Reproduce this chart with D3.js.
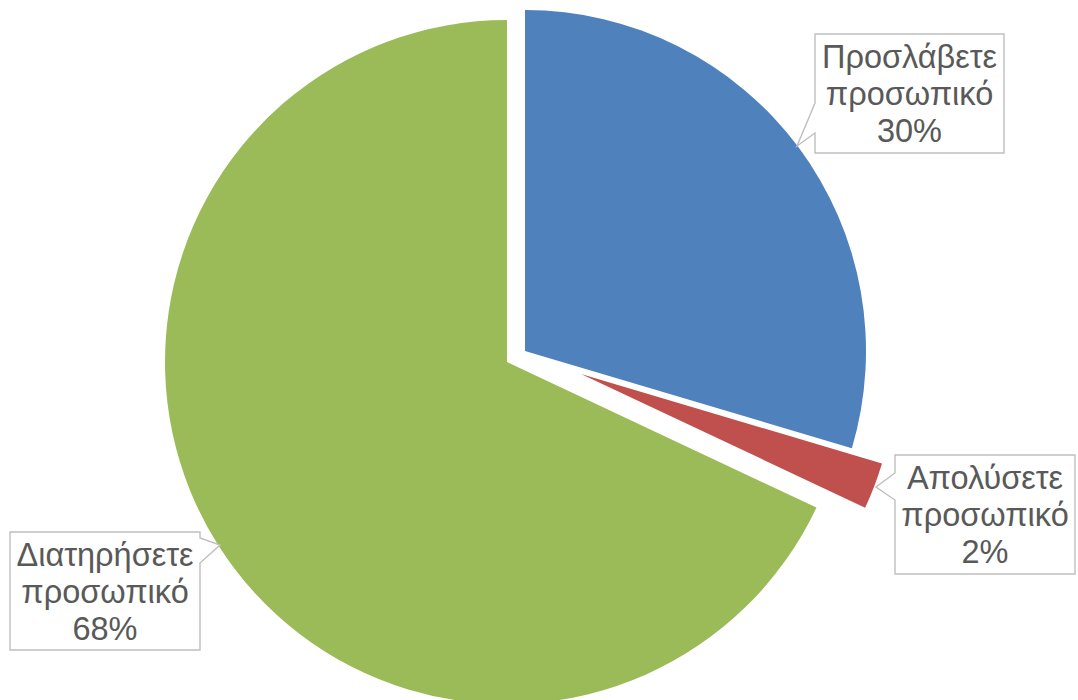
<!DOCTYPE html>
<html>
<head>
<meta charset="utf-8">
<script src="https://cdn.jsdelivr.net/npm/d3@7/dist/d3.min.js"></script>
<style>
  html, body { margin: 0; padding: 0; background: #ffffff; }
  svg { display: block; }
</style>
</head>
<body>
<svg id="chart" width="1078" height="700"></svg>
<script>
// ---- data ----
const categories = ["Προσλάβετε προσωπικό", "Απολύσετε προσωπικό", "Διατηρήσετε προσωπικό"];
const labelLines = [["Προσλάβετε", "προσωπικό"], ["Απολύσετε", "προσωπικό"], ["Διατηρήσετε", "προσωπικό"]];
const values = [29.6, 2.4, 68.0];
const colors = ["#4F81BD", "#C0504D", "#9BBB59"];

// ---- layout (style, not data) ----
const W = 1078, H = 700;
const base = { x: 507, y: 362, r: 342 };
// per-slice explode offset and radius (as drawn in the reference)
const sliceGeom = [
  { dx: 18, dy: -11, r: 341 },
  { dx: 74, dy: 12, r: 314 },
  { dx: 0, dy: 0, r: 342 }
];
// callout boxes: x, y, w, h, pointer side, pointer base (relative y0,y1), tip (absolute)
const callouts = [
  { x: 815, y: 34, w: 189, h: 119, side: "left", b0: 69, b1: 99, tip: [797, 146] },
  { x: 895, y: 455, w: 180, h: 119, side: "left", b0: 18, b1: 45, tip: [876, 487] },
  { x: 10, y: 532, w: 190, h: 118, side: "right", b0: 6, b1: 31, tip: [220, 545] }
];

const svg = d3.select("#chart");
const total = d3.sum(values);
const pie = d3.pie().sort(null).value(d => d).startAngle(0).endAngle(2 * Math.PI);
const arcs = pie(values);

const g = svg.append("g");
g.selectAll("path.slice")
  .data(arcs)
  .enter()
  .append("path")
  .attr("class", "slice")
  .attr("transform", (d, i) => `translate(${base.x + sliceGeom[i].dx},${base.y + sliceGeom[i].dy})`)
  .attr("d", (d, i) => d3.arc().innerRadius(0).outerRadius(sliceGeom[i].r)(d))
  .attr("fill", (d, i) => colors[i]);

// callouts
function calloutPath(c) {
  const x0 = c.x, y0 = c.y, x1 = c.x + c.w, y1 = c.y + c.h;
  const [tx, ty] = c.tip;
  if (c.side === "left") {
    return `M${x0},${y0} H${x1} V${y1} H${x0} V${y0 + c.b1} L${tx},${ty} L${x0},${y0 + c.b0} Z`;
  } else {
    return `M${x0},${y0} H${x1} V${y0 + c.b0} L${tx},${ty} L${x1},${y0 + c.b1} V${y1} H${x0} Z`;
  }
}

const fontSize = 32.5, lineH = 37;
callouts.forEach((c, i) => {
  svg.append("path")
    .attr("d", calloutPath(c))
    .attr("fill", "#ffffff")
    .attr("stroke", "#BFBFBF")
    .attr("stroke-width", 1.4);
  const lines = labelLines[i].concat([Math.round(values[i] / total * 100) + "%"]);
  const t = svg.append("text")
    .attr("font-family", "'Liberation Sans', Arial, sans-serif")
    .attr("font-size", fontSize)
    .attr("fill", "#595959")
    .attr("text-anchor", "middle");
  lines.forEach((ln, k) => {
    t.append("tspan")
      .attr("x", c.x + c.w / 2)
      .attr("y", c.y + 34 + k * lineH)
      .text(ln);
  });
});
</script>
</body>
</html>
